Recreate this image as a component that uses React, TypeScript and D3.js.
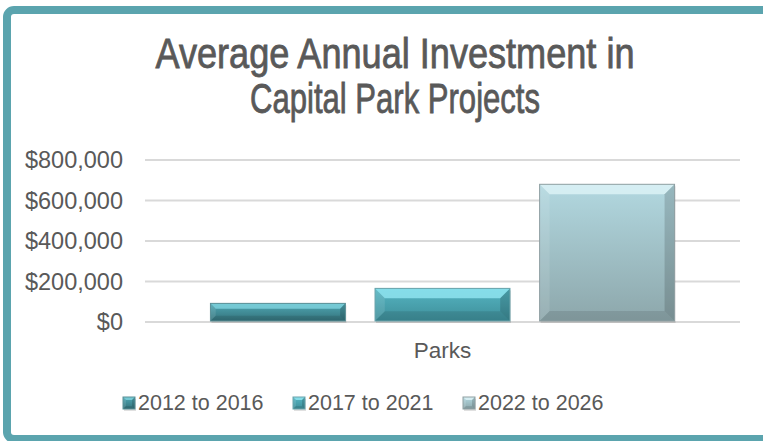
import React from "react";
import * as d3 from "d3";

const categories = ["Parks"];
const seriesNames = ["2012 to 2016", "2017 to 2021", "2022 to 2026"];
const seriesValues = [92000, 166000, 680000];
const yTicks = [0, 200000, 400000, 600000, 800000];
const titleLines = ["Average Annual Investment in", "Capital Park Projects"];

const W = 763;
const H = 441;
const FONT = "'Liberation Sans', Arial, Helvetica, sans-serif";
const TEXT = "#595959";

const palettes = [
  { top: "#4fa7b3", bottom: "#34727b", bevel: "#7fd3de", stroke: "#5b8f96" },
  { top: "#55b5c2", bottom: "#3e8e99", bevel: "#92e7f2", stroke: "#6aa3ab" },
  { top: "#b2d8e0", bottom: "#8da7ab", bevel: "#dff4f7", stroke: "#8f9fa2" },
];

function BevelRect({ x, y, w, h, i, bev }: { x: number; y: number; w: number; h: number; i: number; bev: number }) {
  const b = Math.min(bev, h * 0.3, w * 0.3);
  const p = palettes[i];
  const pts = (a: number[][]) => a.map((q) => q.join(",")).join(" ");
  return (
    <g>
      <rect x={x + 1} y={y + 2} width={w} height={h} fill="rgba(0,0,0,0.12)" />
      <rect x={x} y={y} width={w} height={h} fill={`url(#grad${i})`} />
      <polygon points={pts([[x, y], [x + w, y], [x + w - b, y + b], [x + b, y + b]])} fill={p.bevel} opacity={0.8} />
      <polygon points={pts([[x, y], [x + b, y + b], [x + b, y + h - b], [x, y + h]])} fill="#ffffff" opacity={0.1} />
      <polygon points={pts([[x + w, y], [x + w, y + h], [x + w - b, y + h - b], [x + w - b, y + b]])} fill="#000000" opacity={0.15} />
      <polygon points={pts([[x, y + h], [x + b, y + h - b], [x + w - b, y + h - b], [x + w, y + h]])} fill="#000000" opacity={0.1} />
      <rect x={x} y={y} width={w} height={h} fill="none" stroke={p.stroke} strokeWidth={1} />
    </g>
  );
}

export default function App() {
  const x0 = d3.scaleBand<string>().domain(categories).range([145, 740]).paddingInner(0).paddingOuter(0.141);
  const x1 = d3.scaleBand<string>().domain(seriesNames).range([0, x0.bandwidth()]).paddingInner(0.18).paddingOuter(0);
  const y = d3.scaleLinear().domain([0, 800000]).range([322, 160]);
  const fmt = (v: number) => "$" + d3.format(",")(v);

  const legendX = [123, 293, 463];

  return (
    <svg width={W} height={H} style={{ position: "absolute", left: 0, top: 0, display: "block" }} fontFamily={FONT}>
      <defs>
        {palettes.map((p, i) => (
          <linearGradient key={i} id={`grad${i}`} x1="0" y1="0" x2="0" y2="1">
            <stop offset="0%" stopColor={p.top} />
            <stop offset="100%" stopColor={p.bottom} />
          </linearGradient>
        ))}
      </defs>
      <rect x={0} y={0} width={W} height={H} fill="#ffffff" />
      <rect x={7} y={10} width={820} height={429} rx={7} fill="#ffffff" stroke="#5ba4ae" strokeWidth={8} />

      {titleLines.map((t, i) => (
        <text
          key={i}
          transform={`translate(395, ${68 + i * 45}) scale(1, 1.19)`}
          textAnchor="middle"
          fontSize={36}
          fill={TEXT}
          stroke={TEXT}
          strokeWidth={0.7}
          textLength={i === 0 ? 479 : 290}
          lengthAdjust="spacingAndGlyphs"
        >
          {t}
        </text>
      ))}

      {yTicks.map((t) => (
        <g key={t}>
          <line x1={145} x2={740} y1={y(t)} y2={y(t)} stroke="#d9d9d9" strokeWidth={2} />
          <text x={123} y={y(t) + 8.3} textAnchor="end" fontSize={23.5} fill={TEXT}>
            {fmt(t)}
          </text>
        </g>
      ))}

      {categories.map((c) => (
        <g key={c}>
          {seriesNames.map((s, i) => {
            const bx = (x0(c) ?? 0) + (x1(s) ?? 0);
            const by = y(seriesValues[i]);
            return <BevelRect key={s} x={bx} y={by} w={x1.bandwidth()} h={y(0) - by - 1} i={i} bev={10} />;
          })}
          <text x={(x0(c) ?? 0) + x0.bandwidth() / 2} y={358} textAnchor="middle" fontSize={22.5} fill={TEXT}>
            {c}
          </text>
        </g>
      ))}

      {seriesNames.map((s, i) => (
        <g key={s}>
          <BevelRect x={legendX[i]} y={397} w={12} h={12} i={i} bev={3} />
          <text x={legendX[i] + 15} y={409.5} fontSize={21.5} fill={TEXT}>
            {s}
          </text>
        </g>
      ))}
    </svg>
  );
}
